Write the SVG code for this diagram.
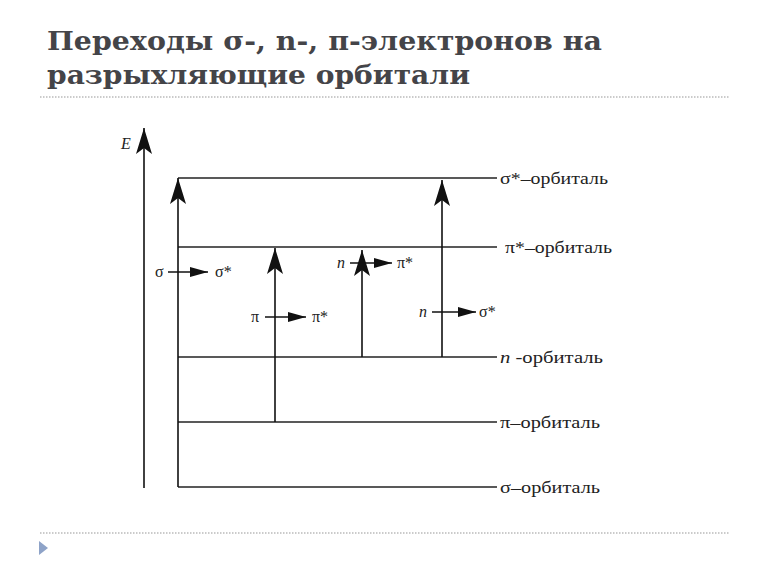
<svg xmlns="http://www.w3.org/2000/svg" width="768" height="576" viewBox="0 0 768 576">
<style>
.title{font-family:"DejaVu Serif","Liberation Serif",serif;font-weight:bold;font-size:26px;fill:#444448}
.lvl{stroke:#222;stroke-width:1.5;fill:none}
.tr{stroke:#111;stroke-width:1.6;fill:none}
.lab{font-family:"Liberation Serif",serif;font-size:16px;fill:#222}
.it{font-style:italic}
.dot{stroke:#bbb;stroke-width:1.5;stroke-dasharray:1.5 1.5}
</style>
<defs>
<marker id="up" viewBox="0 0 26 16" refX="26" refY="8" markerWidth="26" markerHeight="16" markerUnits="userSpaceOnUse" orient="auto">
<path d="M26 8 L0 0 L6 8 L0 16 Z" fill="#111"/>
</marker>
<marker id="ha" viewBox="0 0 18 10" refX="18" refY="5" markerWidth="18" markerHeight="10" markerUnits="userSpaceOnUse" orient="auto">
<path d="M0 0 L18 5 L0 10 Z" fill="#111"/>
</marker>
</defs>
<rect width="768" height="576" fill="#fff"/>
<text class="title" x="47" y="50" textLength="555" lengthAdjust="spacingAndGlyphs">Переходы σ-, n-, π-электронов на</text>
<text class="title" x="47" y="84" textLength="423" lengthAdjust="spacingAndGlyphs">разрыхляющие орбитали</text>
<line class="dot" x1="40" y1="97" x2="730" y2="97"/>
<line class="dot" x1="40" y1="533" x2="730" y2="533"/>
<path d="M39 541 L48 548 L39 555 Z" fill="#8ea3c8"/>

<g id="axis">
<line class="tr" x1="144" y1="488" x2="144" y2="128" marker-end="url(#up)"/>
<text class="lab it" x="121" y="149" font-size="17">E</text>
</g>

<g id="levels">
<g id="sigma-star"><line class="lvl" x1="178" y1="178" x2="497" y2="178"/><text class="lab" x="500" y="184" textLength="108" lengthAdjust="spacingAndGlyphs">σ*–орбиталь</text></g>
<g id="pi-star"><line class="lvl" x1="178" y1="247" x2="497" y2="247"/><text class="lab" x="505" y="253" textLength="107" lengthAdjust="spacingAndGlyphs">π*–орбиталь</text></g>
<g id="n-orb"><line class="lvl" x1="178" y1="357" x2="497" y2="357"/><text class="lab" x="500" y="363" textLength="103" lengthAdjust="spacingAndGlyphs"><tspan class="it">n</tspan> -орбиталь</text></g>
<g id="pi-orb"><line class="lvl" x1="178" y1="422" x2="497" y2="422"/><text class="lab" x="500" y="428" textLength="100" lengthAdjust="spacingAndGlyphs">π–орбиталь</text></g>
<g id="sigma-orb"><line class="lvl" x1="178" y1="487" x2="497" y2="487"/><text class="lab" x="500" y="493" textLength="100" lengthAdjust="spacingAndGlyphs">σ–орбиталь</text></g>
</g>

<g id="connectors">
<line class="tr" x1="178" y1="487" x2="178" y2="178" marker-end="url(#up)"/>
<line class="tr" x1="275" y1="422" x2="275" y2="248" marker-end="url(#up)"/>
<line class="tr" x1="362" y1="357" x2="362" y2="250" marker-end="url(#up)"/>
<line class="tr" x1="442" y1="357" x2="442" y2="180" marker-end="url(#up)"/>
<line class="tr" x1="168" y1="272" x2="208" y2="272" marker-end="url(#ha)"/>
<line class="tr" x1="265" y1="317" x2="306" y2="317" marker-end="url(#ha)"/>
<line class="tr" x1="350" y1="263" x2="392" y2="263" marker-end="url(#ha)"/>
<line class="tr" x1="432" y1="312" x2="476" y2="312" marker-end="url(#ha)"/>
</g>

<g id="transition-labels">
<text class="lab" x="155" y="277">σ</text><text class="lab" x="215" y="277">σ*</text>
<text class="lab" x="251" y="322">π</text><text class="lab" x="312" y="322">π*</text>
<text class="lab it" x="337" y="268">n</text><text class="lab" x="397" y="268">π*</text>
<text class="lab it" x="419" y="317">n</text><text class="lab" x="479" y="317">σ*</text>
</g>
</svg>
